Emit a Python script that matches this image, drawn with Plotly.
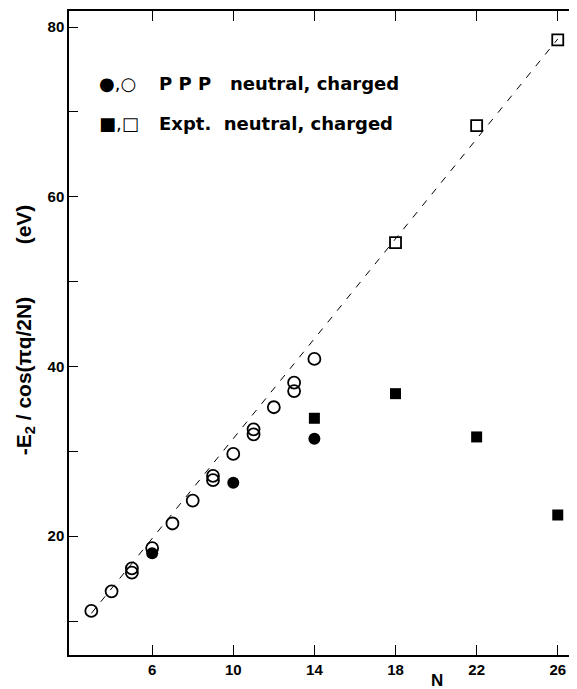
import plotly.graph_objects as go

# PPP neutral (filled circles)
N_ppp_neutral = [6, 10, 14]
E_ppp_neutral = [18.0, 26.3, 31.5]

# PPP charged (open circles)
N_ppp_charged = [3, 4, 5, 5, 6, 7, 8, 9, 9, 10, 11, 11, 12, 13, 13, 14]
E_ppp_charged = [11.2, 13.5, 16.2, 15.7, 18.6, 21.5, 24.2, 27.1, 26.6, 29.7, 32.6, 32.0, 35.2, 38.1, 37.1, 40.9]

# Expt neutral (filled squares)
N_expt_neutral = [14, 18, 22, 26]
E_expt_neutral = [33.9, 36.8, 31.7, 22.5]

# Expt charged (open squares)
N_expt_charged = [18, 22, 26]
E_expt_charged = [54.6, 68.4, 78.5]

# dashed guide line
N_line = [3, 26]
E_line = [10.9, 78.6]

x_ticks = [6, 10, 14, 18, 22, 26]
y_ticks = [10, 20, 30, 40, 50, 60, 70, 80]
y_ticklabels = ["", "20", "", "40", "", "60", "", "80"]

fig = go.Figure()
fig.add_trace(go.Scatter(x=N_line, y=E_line, mode="lines",
                         line=dict(color="black", width=1, dash="7px,8px"),
                         hoverinfo="skip", showlegend=False))
fig.add_trace(go.Scatter(x=N_ppp_charged, y=E_ppp_charged, mode="markers",
                         marker=dict(symbol="circle-open", size=12, color="black",
                                     line=dict(width=1.8, color="black")),
                         showlegend=False))
fig.add_trace(go.Scatter(x=N_ppp_neutral, y=E_ppp_neutral, mode="markers",
                         marker=dict(symbol="circle", size=12, color="black"),
                         showlegend=False))
fig.add_trace(go.Scatter(x=N_expt_neutral, y=E_expt_neutral, mode="markers",
                         marker=dict(symbol="square", size=11, color="black"),
                         showlegend=False))
fig.add_trace(go.Scatter(x=N_expt_charged, y=E_expt_charged, mode="markers",
                         marker=dict(symbol="square-open", size=11, color="black",
                                     line=dict(width=1.8, color="black")),
                         showlegend=False))
# invisible trace to activate right-side tick axis
fig.add_trace(go.Scatter(x=[None], y=[None], yaxis="y2", showlegend=False, hoverinfo="skip"))

font_main = "Liberation Sans, Arial, sans-serif"
font_legend = "DejaVu Sans, sans-serif"

fig.update_layout(
    width=569, height=681, autosize=False,
    margin=dict(l=61, r=2, t=1, b=34),
    paper_bgcolor="white", plot_bgcolor="white",
    font=dict(family=font_main, color="black"),
    xaxis=dict(range=[1.9, 26.85], tickvals=x_ticks, ticktext=[str(v) for v in x_ticks],
               ticks="inside", ticklen=10, tickwidth=1, tickcolor="black",
               showline=True, linecolor="black", linewidth=1.5, mirror="ticks",
               showgrid=False, zeroline=False,
               tickfont=dict(size=15, family=font_main, weight="bold")),
    yaxis=dict(range=[6.0, 81.9], tickvals=y_ticks, ticktext=y_ticklabels,
               ticks="inside", ticklen=9, tickwidth=1, tickcolor="black",
               showline=True, linecolor="black", linewidth=1.5,
               showgrid=False, zeroline=False,
               tickfont=dict(size=15, family=font_main, weight="bold")),
    yaxis2=dict(range=[6.0, 81.9], overlaying="y", side="right", tickvals=y_ticks,
                showticklabels=False, ticks="inside", ticklen=3, tickcolor="black",
                showline=False, showgrid=False, zeroline=False),
    annotations=[
        dict(text="-E<sub>2</sub> / cos(πq/2N)&nbsp;&nbsp;&nbsp;&nbsp;&nbsp;&nbsp;&nbsp;&nbsp;&nbsp;(eV)",
             xref="paper", yref="paper",
             x=-0.088, y=0.505, xanchor="center", yanchor="middle", textangle=-90,
             showarrow=False, font=dict(size=21, family=font_main, weight="bold")),
        dict(text="N", xref="paper", yref="paper", x=0.728, y=-0.039,
             xanchor="center", yanchor="middle", showarrow=False,
             font=dict(size=17, family=font_main, weight="bold")),
        dict(text="●,○", xref="paper", yref="paper", x=0.055, y=0.888,
             xanchor="left", yanchor="middle", showarrow=False,
             font=dict(size=18, family="DejaVu Sans")),
        dict(text="■,□", xref="paper", yref="paper", x=0.055, y=0.826,
             xanchor="left", yanchor="middle", showarrow=False,
             font=dict(size=18, family="DejaVu Sans")),
        dict(text="P P P&nbsp;&nbsp;&nbsp;neutral, charged", xref="paper", yref="paper", x=0.174, y=0.888,
             xanchor="left", yanchor="middle", showarrow=False,
             font=dict(size=18, family=font_legend, weight="bold")),
        dict(text="Expt.&nbsp;&nbsp;neutral, charged", xref="paper", yref="paper", x=0.174, y=0.826,
             xanchor="left", yanchor="middle", showarrow=False,
             font=dict(size=18, family=font_legend, weight="bold")),
    ],
)

fig.write_html("out.html")
